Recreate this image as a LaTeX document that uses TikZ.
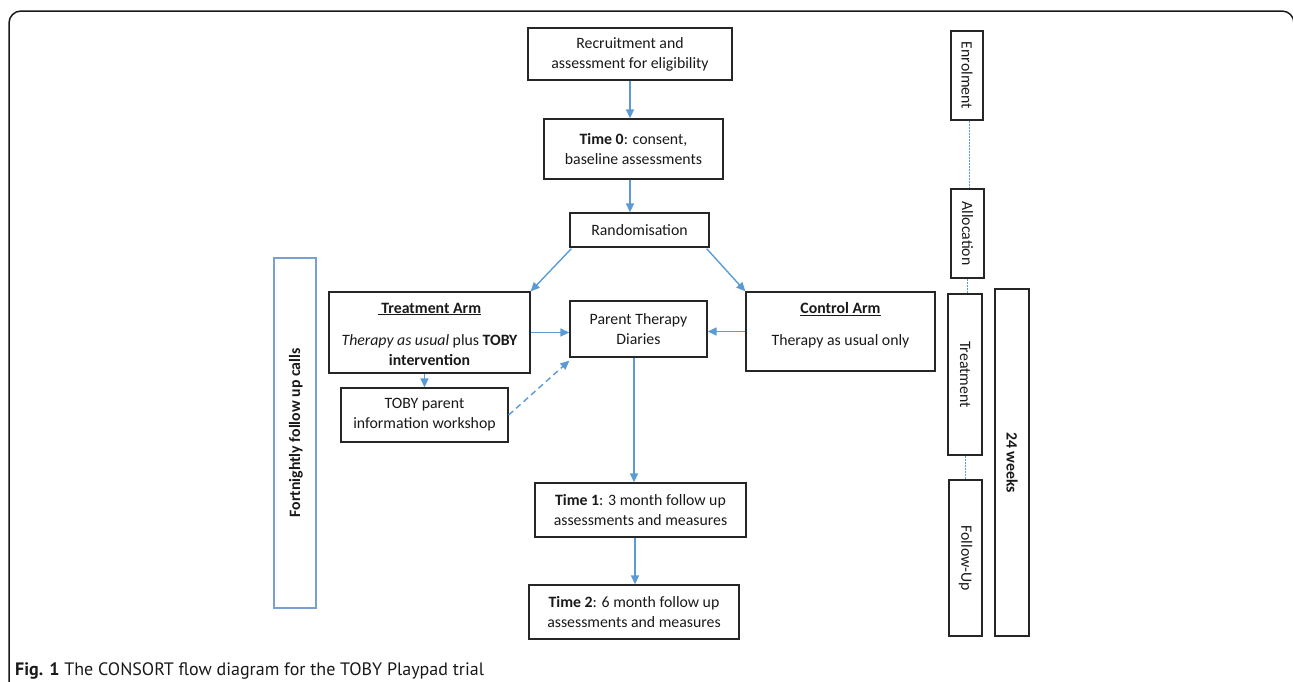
\documentclass[tikz,border=0pt]{standalone}
\usepackage{fontspec}
\setmainfont{Carlito}
\newfontfamily\capfont{PT Sans}
\usetikzlibrary{arrows.meta,calc}
\definecolor{arrowblue}{RGB}{91,155,213}
\definecolor{boxline}{RGB}{38,38,38}
\definecolor{lightblue}{RGB}{120,160,210}
\begin{document}
\begin{tikzpicture}[x=1pt,y=-1pt,
  mainfont/.style={font=\fontsize{15.8}{20}\selectfont},
  box/.style={draw=boxline, line width=1.3pt, rectangle, inner sep=0pt, align=center, mainfont, text=black!90},
  bluebox/.style={draw=lightblue, line width=1.3pt, rectangle, inner sep=0pt, align=center, mainfont, text=black!90},
  txt/.style={inner sep=0pt, align=center, mainfont, text=black!90},
  arr/.style={draw=arrowblue, line width=1.4pt, -{Triangle[length=9pt,width=8pt]}},
  dasharr/.style={arr, dash pattern=on 6pt off 4pt},
  link/.style={draw=arrowblue, line width=1pt, dash pattern=on 2pt off 1pt}
]
\useasboundingbox (0,0) rectangle (1293,681);
% frame
\draw[line width=1.5pt, black!90, rounded corners=12pt] (9,690) -- (9,11) -- (1294,11) -- (1294,690);

% main flow boxes
\node[box, minimum width=204, minimum height=52] (rec) at (630,54) {Recruitment and\\assessment for eligibility};
\node[box, minimum width=179, minimum height=60] (t0) at (633.5,149) {\textbf{Time 0}: consent,\\baseline assessments};
\node[box, minimum width=139, minimum height=34] (rand) at (639.5,230) {Randomisation};
\node[box, minimum width=201, minimum height=81] (treat) at (429.5,332.5) {};
\node[txt] (treattxt) at (429.5,334) {\underline{\textbf{\ Treatment Arm}}\\[12pt]\textit{Therapy as usual} plus \textbf{TOBY}\\\textbf{intervention}};
\node[box, minimum width=137, minimum height=56] (diary) at (638.5,329) {Parent Therapy\\Diaries};
\node[box, minimum width=189, minimum height=79] (ctrl) at (840.5,331.5) {};
\node[txt] (ctrltxt) at (840.5,325) {\underline{\textbf{Control Arm}}\\[12pt]Therapy as usual only};
\node[box, minimum width=167, minimum height=54] (work) at (424.5,415) {TOBY parent\\information workshop};
\node[box, minimum width=211, minimum height=54] (t1) at (640.5,510) {\textbf{Time 1}: 3 month follow up\\assessments and measures};
\node[box, minimum width=210, minimum height=54] (t2) at (634,612) {\textbf{Time 2}: 6 month follow up\\assessments and measures};

% left side box
\node[bluebox, minimum width=42, minimum height=350] (fort) at (295,433) {};
\node[txt, rotate=90] (forttxt) at (296,433) {\textbf{Fortnightly follow up calls}};

% right side phase boxes
\node[box, minimum width=32, minimum height=89] (enrol) at (967,75.5) {};
\node[txt, rotate=-90] (enroltxt) at (967,75.5) {Enrolment};
\node[box, minimum width=33, minimum height=89] (alloc) at (967.5,233.5) {};
\node[txt, rotate=-90] (alloctxt) at (967.5,233.5) {Allocation};
\node[box, minimum width=34, minimum height=161] (treatS) at (965,374.5) {};
\node[txt, rotate=-90] (treatStxt) at (965,374.5) {Treatment};
\node[box, minimum width=33, minimum height=156] (follow) at (965.5,558) {};
\node[txt, rotate=-90] (followtxt) at (965.5,558) {Follow-Up};
\node[box, minimum width=34, minimum height=347] (weeks) at (1012,462.5) {};
\node[txt, rotate=-90] (weekstxt) at (1012,462.5) {\textbf{24 weeks}};

% connectors on the right
\draw[link] (enrol.south -| 969,0) -- (alloc.north -| 969,0);
\draw[link] (alloc.south -| 967,0) -- (treatS.north -| 967,0);
\draw[link] (treatS.south -| 965,0) -- (follow.north -| 965,0);

% arrows
\draw[arr] (rec.south) -- (rec.south |- t0.north);
\draw[arr] (rec.south |- t0.south) -- (rec.south |- rand.north);
\draw[arr] ($(rand.south west)+(2,1)$) -- (treat.north east);
\draw[arr] ($(rand.south east)+(-3,1)$) -- (ctrl.north west);
\draw[arr] (treat.east) -- (diary.west |- treat.east);
\draw[arr] (ctrl.west) -- (diary.east |- ctrl.west);
\draw[arr] (work.north |- treat.south) -- (work.north);
\draw[dasharr] (work.east) -- ($(diary.south west)+(0,3)$);
\draw[arr] (diary.south -| 634,0) -- (t1.north -| 634,0);
\draw[arr] (t1.south -| 635,0) -- (t2.north -| 635,0);

% caption
\node[anchor=base west, inner sep=0pt, font=\capfont\fontsize{18}{22}\selectfont, text=black!90] (cap) at (15,675) {\textbf{Fig. 1} The CONSORT flow diagram for the TOBY Playpad trial};
\end{tikzpicture}
\end{document}
